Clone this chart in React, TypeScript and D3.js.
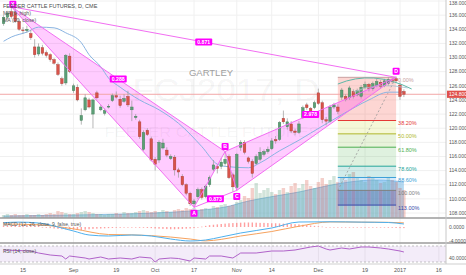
import React from 'react';
import * as d3 from 'd3';

// ---------- DATA ----------
const START_INDEX = -5; // bar index of first candle (0 = Aug 15)
const opens = [134.8,135.7,136.5,136.4,135.1, 133.9,133.8,133.4,131.5,130.5, 131.4,130.7,130.4,129.7,129.0, 127.0,126.4,130.2,125.3,125.8, 121.1,122.6,124.0,122.0,125.0, 122.6,122.1,123.0,123.9,124.6, 124.1,123.8,124.5,122.6,121.5, 120.9,117.0,119.7,118.5,115.6, 115.5,117.2,116.9,115.7,115.9, 114.1,113.2,112.0,110.8,109.3, 110.3,111.3,110.3,112.0,114.2, 114.6,114.6,115.0,116.0,113.4, 111.6,117.3,118.0,115.8,115.3, 115.0,115.6,116.3,116.7,117.1, 118.4,118.4,121.4,120.2,120.6, 119.6,119.4,121.5,123.3,122.8, 122.9,125.0,123.6,121.2,121.0, 123.0,123.0,124.4,124.5,124.3, 125.2,124.7,124.5,125.8,126.2, 125.6,126.0,126.5,126.0,126.3, 126.9,127.0,126.1,125.2];
const highs = [136.0,136.6,137.2,137.0,135.4, 134.3,134.5,133.9,132.6,132.0, 131.8,131.0,130.6,129.9,129.3, 127.3,130.5,130.6,126.3,126.2, 122.8,124.8,124.3,124.2,125.3, 123.3,122.8,123.4,124.9,125.2, 124.6,124.8,125.3,123.9,122.0, 121.2,119.7,120.0,118.8,115.9, 118.3,118.5,117.3,116.3,116.2, 114.4,113.5,112.2,111.0,110.0, 111.6,111.6,112.0,113.3,115.5, 114.9,115.8,116.7,116.3,113.7, 116.5,118.3,118.3,116.0,115.6, 116.3,117.3,117.0,117.4,118.6, 118.9,121.0,122.5,121.4,121.0, 119.9,121.0,123.2,123.6,123.0, 123.9,125.6,123.9,121.6,123.3, 123.6,123.4,125.7,124.8,126.0, 125.5,125.6,126.1,126.6,126.4, 126.6,127.0,126.8,127.0,127.2, 127.1,127.3,126.5,125.5];
const lows = [134.5,135.4,135.5,134.9,133.8, 133.4,133.5,132.5,130.0,130.2, 130.3,130.0,129.4,129.0,127.4, 126.0,126.1,127.8,125.0,123.8, 120.5,122.4,122.8,120.0,124.1, 122.4,121.8,122.8,123.7,124.2, 122.9,123.6,123.0,121.0,121.2, 118.5,116.8,118.9,115.3,114.0, 115.1,117.0,115.9,115.5,113.3, 113.0,111.8,110.5,109.0,108.8, 110.0,109.9,110.1,111.7,113.9, 113.6,114.2,114.7,112.8,111.0, 111.2,116.8,116.3,115.0,113.0, 114.8,115.3,116.0,116.4,116.9, 117.8,118.2,120.6,119.8,119.3, 119.0,119.2,121.3,122.6,121.8, 122.7,123.3,120.7,120.4,120.8, 122.7,122.0,124.0,123.8,124.0, 124.2,124.5,124.2,125.5,125.2, 125.3,125.8,125.6,125.8,126.0, 126.3,126.4,124.0,124.4];
const closes = [135.7,136.3,135.8,135.1,134.0, 133.8,134.0,132.8,130.4,131.5, 130.6,130.3,129.7,129.2,127.6, 126.3,130.3,128.0,126.0,124.0, 121.8,124.3,123.0,124.0,124.3, 123.0,122.5,123.1,124.6,124.4, 123.2,124.2,123.3,123.0,121.7, 118.8,119.4,119.1,115.5,114.9, 118.0,117.9,116.2,116.0,114.1, 113.8,112.0,110.8,109.3,109.7, 111.3,110.2,111.8,113.0,114.8, 114.3,115.2,115.6,113.0,111.7, 116.3,118.0,116.6,115.3,113.6, 116.0,116.6,116.7,117.0,118.2, 118.2,120.8,120.9,120.9,119.6, 119.4,120.6,122.9,122.9,122.1, 123.6,123.5,121.2,121.0,123.0, 123.3,122.4,125.4,124.1,125.7, 124.5,125.3,125.8,126.2,125.6, 126.3,126.6,125.9,126.7,126.9, 126.6,126.7,124.5,124.8];
const volumes = [3,4,3,4,3,3,4,3,3,4, 3,4,5,4,7,6,5,4, 4,5,6,7,6,5,4,4,3,4, 4,5,4,6,5,5,6,7,8,7,6, 7,6,8,7,6,8,9,8,10,9,10,8,9, 10,9,12,11,13,14,12,13,16,18,22,20,30,35, 25,28,30,26,24,28,30,26,32,35,30,34,38,32,30, 36,40,34,38,42,36,40,38,44,46,40,38,36,42,40,38,35,36,40,38,36,30,28];
const macdHist = [0.3,0.3,0.35,0.4,0.4,0.45,0.45,0.4,0.4,0.3, -0.1,-0.2,-0.3,-0.4,-0.5,-0.6,-0.6,-0.7, -0.7,-0.75,-0.8,-0.7,-0.6,-0.5,-0.45,-0.4,-0.35,-0.3, -0.25,-0.2,-0.2,-0.15,-0.1,-0.1,-0.15,-0.2,-0.2,-0.25,-0.3, -0.4,-0.45,-0.5,-0.55,-0.6,-0.6,-0.55,-0.5,-0.45,-0.4,-0.3,-0.1,0.1, 0.3,0.5,0.6,0.7,0.8,0.9,1.0,1.05,1.1,1.15,1.2,1.2,1.2,1.15,1.1,1.1,1.05,1.0,1.0,0.95,0.9,0.85,0.8,0.75,0.7,0.6,0.5,0.4,0.3, 0.2,0.1,0.0,-0.05,-0.1,-0.1,-0.1,-0.15,-0.15,-0.1,-0.1,-0.1,-0.05,-0.05,-0.1,-0.1,-0.15,-0.15,-0.2,-0.2,-0.25,-0.3,-0.3];

const maIdx = [-5,-3,1,4,8,11,15,17,20,22,25,30,35,40,46,50,52,58,61,66,71,74,82,89,94,98];
const maVals = [132.3,132.9,133.6,134.3,134.2,133.5,132.1,130.4,128.7,127.1,125.8,124.0,122.6,120.7,117.4,114.9,114.6,114.4,115.1,116.8,118.3,119.3,121.9,124.0,125.1,125.1];

const oiIdx = [-5,13,26,39,46,52,58,65,71,78,84,91,98];
const oiVals = [2,3,4,6,8,11,17,22,26,32,36,38,36];

const macdIdx = [-5,-1,4,10,13,17,22,28,33,38,43,47,51,56,64,71,79,87,94,98];
const macdVals = [1.15,1.3,1.07,-0.27,-1.07,-2.13,-2.4,-2.13,-2.4,-3.2,-3.73,-3.47,-2.67,-1.6,-0.27,1.33,1.4,1.3,1.2,0.8];
const signalIdx = [-5,4,13,22,28,33,43,47,51,56,64,71,79,87,94,98];
const signalVals = [0.8,0.6,-0.5,-2.0,-2.1,-2.3,-3.2,-3.7,-3.3,-2.4,-1.2,0.2,1.35,1.3,1.25,1.1];

const rsiIdx = [-5,2,4,7,10,11,12,16,17,20,22,25,28,30,33,34,35,38,40,43,44,47,48,51,54,56,60,64,67,70,74,76,78,79,82,84,87,89,92,94,97,98];
const rsiVals = [60,57.5,52.5,47.5,45,37.5,45,40,37.5,42.5,37.5,40,37.5,42.5,40,30,37.5,40,38.75,32.5,40,37.5,45,45,40,52.5,52.5,57.5,57.5,60,67.5,70,62.5,60,65,62.5,67.5,67.5,65,62.5,57.5,55];

const priceTicks = d3.range(108, 139, 2);
const timeTickIdx = [0, 13, 24, 34, 44, 55, 64, 76, 88, 97, 107];
const timeTickLabels = ['15', 'Sep', '19', 'Oct', '17', 'Nov', '14', 'Dec', '19', '2017', '16'];

const patternNames = ['X', 'A', 'B', 'C', 'D'];
const patternIdx = [-3, 44, 52, 55, 96];
const patternPrices = [137.2, 108.8, 116.7, 111.2, 127.2];
const ratioLabels = ['0.288', '0.873', '2.978', '0.871'];
const ratioEdges = [[0, 2], [1, 3], [2, 4], [0, 4]];

const fibAnchorIdx = [81, 96];
const fibAnchorPrices = [111.2, 127.2];
const fibLevels = [0, 0.382, 0.5, 0.618, 0.786, 0.886, 1, 1.13];
const fibLabels = ['0.00%', '38.20%', '50.00%', '61.80%', '78.60%', '88.60%', '100.00%', '113.00%'];
const fibLineColors = ['#c9a0a0', '#e53935', '#b0b82b', '#4caf50', '#26a69a', '#3d9fd8', '#808080', '#3949ab'];
const fibBandColors = ['rgba(244,67,54,0.22)', 'rgba(205,220,57,0.2)', 'rgba(139,195,74,0.2)', 'rgba(76,175,80,0.18)', 'rgba(0,150,136,0.18)', 'rgba(100,181,246,0.28)', 'rgba(63,81,181,0.32)'];

const arcIdx = [[81, 90, 100], [85, 91, 99]];
const arcPrices = [[126.25, 128.3, 125.55], [125.1, 126.6, 125.7]];

const lastPrice = 124.8;

// ---------- LAYOUT ----------
const W = 466, H = 275, PR = 446;
const MAIN_B = 218, MACD_B = 243, RSI_B = 264;
const FONT = 'Liberation Sans, Arial, sans-serif';

export default function App() {
  const x = d3.scaleLinear().domain([0, 97]).range([23, 400]);
  const y = d3.scaleLinear().domain([108, 138]).range([213, 1]);
  const vy = d3.scaleLinear().domain([0, 50]).range([MAIN_B, 168]);
  const my = d3.scaleLinear().domain([-4, 0]).range([242, 227]);
  const ry = d3.scaleLinear().domain([30, 70]).range([262, 246]);

  const bars = opens.map((o, k) => ({ i: START_INDEX + k, o, h: highs[k], l: lows[k], c: closes[k], v: volumes[k], hist: macdHist[k] }));

  const maLine = d3.line<number>().x((_, k) => x(maIdx[k])).y(d => y(d)).curve(d3.curveMonotoneX)(maVals) || '';
  const oiArea = d3.area<number>().x((_, k) => x(oiIdx[k])).y0(MAIN_B).y1(d => vy(d)).curve(d3.curveMonotoneX);
  const oiPath = oiArea(oiVals) || '';
  const oiTop = d3.line<number>().x((_, k) => x(oiIdx[k])).y(d => vy(d)).curve(d3.curveMonotoneX)(oiVals) || '';
  const macdPath = d3.line<number>().x((_, k) => x(macdIdx[k])).y(d => my(d)).curve(d3.curveMonotoneX)(macdVals) || '';
  const sigPath = d3.line<number>().x((_, k) => x(signalIdx[k])).y(d => my(d)).curve(d3.curveMonotoneX)(signalVals) || '';
  const rsiPath = d3.line<number>().x((_, k) => x(rsiIdx[k])).y(d => ry(d))(rsiVals) || '';

  const P = patternIdx.map((i, k) => [x(i), y(patternPrices[k])] as [number, number]);
  const poly = (pts: [number, number][]) => 'M' + pts.map(p => p.join(',')).join('L') + 'Z';
  const edges = [[0, 1], [1, 2], [0, 2], [2, 3], [3, 4], [2, 4], [0, 4], [1, 3]];
  const labelDy = [-2.5, 6, -5, 6, -6];
  const pink = '#f26ef2';

  const fx0 = x(fibAnchorIdx[0]), fx1 = x(fibAnchorIdx[1]);
  const fibHi = fibAnchorPrices[1], fibLo = fibAnchorPrices[0];
  const fibY = fibLevels.map(r => y(fibHi - r * (fibHi - fibLo)));

  const arcPaths = arcIdx.map((ids, a) => {
    const p = ids.map((i, k) => [x(i), y(arcPrices[a][k])]);
    return `M${p[0][0]},${p[0][1]} Q${p[1][0]},${p[1][1]} ${p[2][0]},${p[2][1]}`;
  });

  const bw = 2.6;

  return (
    <div style={{ position: 'absolute', left: 0, top: 0, width: W, height: H, background: '#fff' }}>
      <svg width={W} height={H} style={{ display: 'block', fontFamily: FONT }}>
        <defs>
          <clipPath id="cmain"><rect x={0} y={0} width={PR} height={MAIN_B} /></clipPath>
          <clipPath id="cmacd"><rect x={0} y={MAIN_B} width={PR} height={MACD_B - MAIN_B} /></clipPath>
          <clipPath id="crsi"><rect x={0} y={MACD_B} width={PR} height={RSI_B - MACD_B} /></clipPath>
        </defs>
        <rect width={W} height={H} fill="#fff" />

        {/* grid */}
        {priceTicks.map(p => <line key={'hg' + p} x1={0} x2={PR} y1={y(p)} y2={y(p)} stroke="#f0f0f0" strokeWidth={1} />)}
        {timeTickIdx.map(i => <line key={'vg' + i} x1={x(i)} x2={x(i)} y1={0} y2={RSI_B} stroke="#f0f0f0" strokeWidth={1} />)}

        <g clipPath="url(#cmain)">
          {/* watermark */}
          <text x={226} y={101} fontSize={32} textAnchor="middle" textLength={187} lengthAdjust="spacingAndGlyphs" fill="rgba(0,0,0,0.055)">FCJ2017, D</text>
          <text x={212} y={137} fontSize={14} textAnchor="middle" textLength={215} lengthAdjust="spacingAndGlyphs" fill="rgba(0,0,0,0.055)">FEEDER CATTLE FUTURES</text>

          {/* volume */}
          <path d={oiPath} fill="rgba(120,185,230,0.55)" />
          <path d={oiTop} fill="none" stroke="rgba(90,160,215,0.7)" strokeWidth={0.8} />
          {bars.map(b => (
            <rect key={'v' + b.i} x={x(b.i) - 1.7} width={3.4} y={vy(b.v)} height={MAIN_B - vy(b.v)}
              fill={b.c >= b.o ? 'rgba(107,165,131,0.3)' : 'rgba(215,84,66,0.28)'} />
          ))}

          {/* fib retracement */}
          {fibBandColors.map((c, k) => (
            <rect key={'fb' + k} x={fx0} width={fx1 - fx0} y={fibY[k]} height={fibY[k + 1] - fibY[k]} fill={c} />
          ))}
          {fibY.map((yy, k) => (
            <line key={'fl' + k} x1={fx0} x2={fx1} y1={yy} y2={yy} stroke={fibLineColors[k]} strokeWidth={1} />
          ))}
          <line x1={fx0} y1={y(fibLo)} x2={fx1} y2={y(fibHi)} stroke="#999" strokeWidth={0.8} strokeDasharray="2,2" />
          {fibY.map((yy, k) => (
            <text key={'ft' + k} x={fx1 + 2} y={yy + 4.5} fontSize={5.5} fill={fibLineColors[k]}>{fibLabels[k]}</text>
          ))}

          {/* pattern fills */}
          <path d={poly([P[0], P[1], P[2]])} fill="rgba(255,0,255,0.2)" />
          <path d={poly([P[2], P[3], P[4]])} fill="rgba(255,0,255,0.2)" />

          {/* last price line */}
          <line x1={0} x2={PR} y1={y(lastPrice)} y2={y(lastPrice)} stroke="#f2a7a7" strokeWidth={1} />

          {/* moving average */}
          <path d={maLine} fill="none" stroke="#8ab4e2" strokeWidth={1} />

          {/* candles */}
          {bars.map(b => {
            const up = b.c >= b.o;
            const top = y(Math.max(b.o, b.c)), bot = y(Math.min(b.o, b.c));
            return (
              <g key={'c' + b.i}>
                <line x1={x(b.i)} x2={x(b.i)} y1={y(b.h)} y2={y(b.l)} stroke="#9a9a9a" strokeWidth={0.7} />
                <rect x={x(b.i) - bw / 2} width={bw} y={top} height={Math.max(0.8, bot - top)}
                  fill={up ? '#5c9f76' : '#d8534a'} stroke={up ? '#3f7a55' : '#a83a32'} strokeWidth={0.4} />
              </g>
            );
          })}

          {/* arcs */}
          <path d={arcPaths[0]} fill="none" stroke="#5fb8a8" strokeWidth={1} />
          <path d={arcPaths[1]} fill="none" stroke="#a9bfcf" strokeWidth={0.8} />

          {/* pattern lines */}
          {edges.map(([a, b2], k) => (
            <line key={'pe' + k} x1={P[a][0]} y1={P[a][1]} x2={P[b2][0]} y2={P[b2][1]} stroke={pink} strokeWidth={1} />
          ))}
          {ratioEdges.map(([a, b2], k) => {
            const mx = (P[a][0] + P[b2][0]) / 2, myy = (P[a][1] + P[b2][1]) / 2;
            return (
              <g key={'rl' + k}>
                <rect x={mx - 8.5} y={myy - 3.5} width={17} height={7} rx={1} fill="#f0f" />
                <text x={mx} y={myy + 1.9} fontSize={5.2} fontWeight="bold" textAnchor="middle" fill="#fff">{ratioLabels[k]}</text>
              </g>
            );
          })}
          {P.map((p, k) => (
            <g key={'pl' + k}>
              <rect x={p[0] - 3.5 + (k === 0 ? 1.5 : 0)} y={p[1] + labelDy[k] - 3.5} width={7} height={7} rx={1} fill="#f0f" />
              <text x={p[0] + (k === 0 ? 1.5 : 0)} y={p[1] + labelDy[k] + 1.9} fontSize={5.2} fontWeight="bold" textAnchor="middle" fill="#fff">{patternNames[k]}</text>
            </g>
          ))}

          <text x={211} y={76} fontSize={9.5} textAnchor="middle" fill="#a0a0a0">GARTLEY</text>
        </g>

        {/* legends */}
        <text x={3} y={8} fontSize={5.5} fill="#4a4a4a">FEEDER CATTLE FUTURES, D, CME</text>
        <text x={3} y={15} fontSize={5.2} fill="#555">MA (9, high)</text>
        <text x={3} y={22} fontSize={5.2} fill="#555">MA (20, close)</text>

        {/* MACD pane */}
        <g clipPath="url(#cmacd)">
          {bars.map(b => (
            <rect key={'h' + b.i} x={x(b.i) - 0.7} width={1.4} y={Math.min(my(0), my(b.hist))}
              height={Math.max(0.6, Math.abs(my(b.hist) - my(0)))} fill="rgba(255,82,82,0.55)" />
          ))}
          <path d={sigPath} fill="none" stroke="#f6a25e" strokeWidth={1} />
          <path d={macdPath} fill="none" stroke="#4db0ee" strokeWidth={1} />
          <text x={3} y={226} fontSize={5} fill="#555">MACD (12, 26, close, 9, false, true)</text>
        </g>

        {/* RSI pane */}
        <g clipPath="url(#crsi)">
          <rect x={0} width={PR} y={ry(70)} height={ry(30) - ry(70)} fill="rgba(153,102,204,0.12)" />
          <line x1={0} x2={PR} y1={ry(70)} y2={ry(70)} stroke="#aaa" strokeWidth={0.7} strokeDasharray="2,2" />
          <line x1={0} x2={PR} y1={ry(30)} y2={ry(30)} stroke="#aaa" strokeWidth={0.7} strokeDasharray="2,2" />
          <path d={rsiPath} fill="none" stroke="#b062c9" strokeWidth={1} />
          <text x={3} y={252.5} fontSize={5} fill="#555">RSI (14, close)</text>
        </g>

        {/* separators and axes */}
        <line x1={0} x2={W} y1={MAIN_B} y2={MAIN_B} stroke="#9b9b9b" strokeWidth={1.5} />
        <line x1={0} x2={W} y1={MACD_B} y2={MACD_B} stroke="#9b9b9b" strokeWidth={1.5} />
        <line x1={0} x2={W} y1={RSI_B} y2={RSI_B} stroke="#cfcfcf" strokeWidth={1} />
        <line x1={PR} x2={PR} y1={0} y2={RSI_B} stroke="#c8c8c8" strokeWidth={1} />

        {priceTicks.map(p => (
          <text key={'pt' + p} x={449} y={Math.max(3, y(p))} dy="0.35em" fontSize={5} fill="#555">{d3.format('.3f')(p)}</text>
        ))}
        <rect x={447} y={y(lastPrice) - 3.6} width={19} height={7.2} fill="#e0504a" />
        <text x={449} y={y(lastPrice)} dy="0.35em" fontSize={5} fill="#fff">{d3.format('.3f')(lastPrice)}</text>

        <text x={449} y={my(0)} dy="0.35em" fontSize={5} fill="#555">0.0000</text>
        <text x={449} y={my(-4) - 0.5} dy="0.35em" fontSize={5} fill="#555">-4.0000</text>
        <text x={449} y={ry(40)} dy="0.35em" fontSize={5} fill="#555">40.0000</text>

        {timeTickIdx.map((i, k) => (
          <text key={'tt' + i} x={x(i)} y={271.5} fontSize={5.5} textAnchor="middle" fill="#555">{timeTickLabels[k]}</text>
        ))}
      </svg>
    </div>
  );
}
